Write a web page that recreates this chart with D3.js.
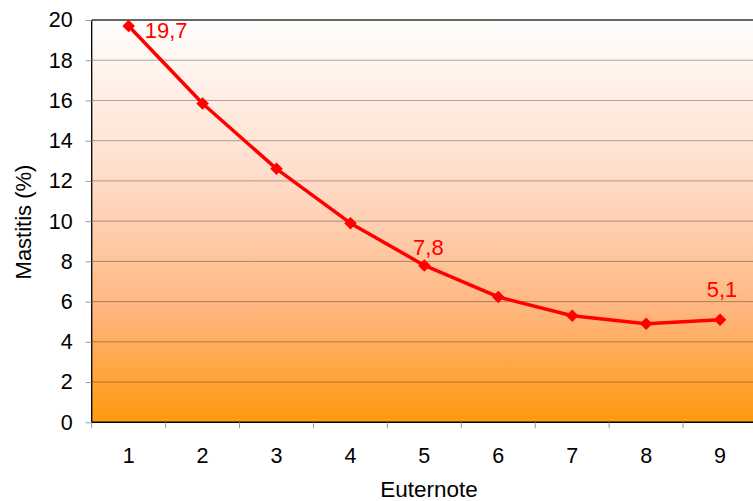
<!DOCTYPE html>
<html><head><meta charset="utf-8">
<script src="https://cdn.jsdelivr.net/npm/d3@7"></script>
<style>body{margin:0;background:#fff}svg{display:block;font-family:Arial,"Liberation Sans",sans-serif}</style>
</head><body><svg id="c" width="753" height="501"></svg>
<script>
const categories = ["1","2","3","4","5","6","7","8","9"];
const values = [19.7, 15.85, 12.6, 9.9, 7.8, 6.23, 5.3, 4.9, 5.1];
const labels = ["19,7", null, null, null, "7,8", null, null, null, "5,1"];
const yTicks = [0,2,4,6,8,10,12,14,16,18,20];

const svg = d3.select("#c");
const L = 91.7, R = 757, T = 20, B = 422.3;
const FS = 21.5;
const x = d3.scaleBand().domain(categories).range([L, R]);
const y = d3.scaleLinear().domain([0, 20]).range([B, T]);

const defs = svg.append("defs");
const g = defs.append("linearGradient").attr("id","bg").attr("x1",0).attr("y1",0).attr("x2",0).attr("y2",1);
[[0,"#fffefd"],[0.4,"#ffdcc8"],[0.72,"#ffb67e"],[1,"#ff990f"]].forEach(([o,c])=>
  g.append("stop").attr("offset",o).attr("stop-color",c));

svg.append("rect").attr("x",L).attr("y",T).attr("width",R-L).attr("height",B-T).attr("fill","url(#bg)");

// gridlines
svg.append("g").selectAll("line").data(yTicks.filter(d=>d>0&&d<20)).join("line")
  .attr("x1",L).attr("x2",R).attr("y1",d=>y(d)).attr("y2",d=>y(d))
  .attr("stroke","#000").attr("stroke-opacity",0.33).attr("stroke-width",1);
// top border
svg.append("line").attr("x1",L).attr("x2",R).attr("y1",T).attr("y2",T).attr("stroke","#333").attr("stroke-width",1.5);

// y axis
const ya = svg.append("g").attr("transform",`translate(${L},0)`)
  .call(d3.axisLeft(y).tickValues(yTicks).tickSize(6).tickPadding(13).tickFormat(d3.format("d")));
ya.select(".domain").attr("stroke","#000").attr("stroke-width",1.3).attr("d",`M0,${T}V${B}`);
ya.selectAll(".tick line").attr("stroke","#999");
ya.selectAll(".tick text").attr("font-size",FS).attr("fill","#000").attr("font-family","Arial,'Liberation Sans',sans-serif");

// x axis
const xa = svg.append("g").attr("transform",`translate(0,${B})`)
  .call(d3.axisBottom(x).tickSize(0).tickPadding(25));
xa.select(".domain").attr("stroke","#000").attr("stroke-width",1.5).attr("d",`M${L},0H${R}`);
xa.selectAll(".tick text").attr("font-size",FS).attr("fill","#000").attr("font-family","Arial,'Liberation Sans',sans-serif");
const bounds = categories.map(c=>x(c));
xa.append("g").selectAll("line").data(bounds).join("line")
  .attr("x1",d=>d).attr("x2",d=>d).attr("y1",0).attr("y2",6).attr("stroke","#999");

// axis titles
svg.append("text").attr("x",429).attr("y",497).attr("text-anchor","middle").attr("font-size",22.5).text("Euternote");
svg.append("text").attr("transform","translate(31,222) rotate(-90)").attr("text-anchor","middle").attr("font-size",22).text("Mastitis (%)");

// line
const cx = c => x(c) + x.bandwidth()/2;
const line = d3.line().x((d,i)=>cx(categories[i])).y(d=>y(d));
svg.append("path").datum(values).attr("d",line).attr("fill","none").attr("stroke","#ff0000").attr("stroke-width",3.5).attr("stroke-linejoin","round");
svg.append("g").selectAll("path").data(values).join("path")
  .attr("d",d3.symbol(d3.symbolDiamond2,100))
  .attr("transform",(d,i)=>`translate(${cx(categories[i])},${y(d)})`)
  .attr("fill","#ff0000");

// labels
const offs = {0:[16,12,"start"],4:[4,-10,"middle"],8:[2,-23,"middle"]};
const lab = svg.append("g").attr("fill","#ff0000").attr("font-size",22);
values.forEach((v,i)=>{
  if(!labels[i]) return;
  const [dx,dy,a] = offs[i];
  lab.append("text").attr("x",cx(categories[i])+dx).attr("y",y(v)+dy).attr("text-anchor",a).text(labels[i]);
});
</script></body></html>
